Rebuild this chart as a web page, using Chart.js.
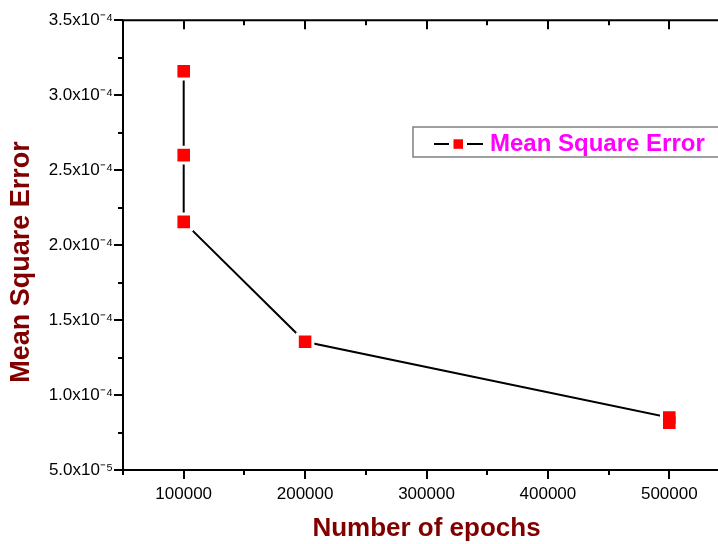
<!DOCTYPE html>
<html lang="en">
<head>
<meta charset="utf-8">
<title>Mean Square Error vs epochs</title>
<script src="https://cdn.jsdelivr.net/npm/chart.js"></script>
<style>
	html, body { margin: 0; padding: 0; overflow: hidden; background: #fff; }
	#wrap { width: 744px; height: 544px; }
</style>
</head>
<body>
<div id="wrap">
	<canvas id="myChart" width="744" height="544"></canvas>
</div>
<script>
// data
const epochs = [100000, 100000, 100000, 200000, 500000, 500000];
const mse = [3.16e-4, 2.60e-4, 2.155e-4, 1.355e-4, 8.5e-5, 8.15e-5];

// labelled ticks
const xTickLabels = [100000, 200000, 300000, 400000, 500000];
const yTickLabels = [5e-5, 1.0e-4, 1.5e-4, 2.0e-4, 2.5e-4, 3.0e-4, 3.5e-4];

const seriesName = 'Mean Square Error';
const xTitle = 'Number of epochs';
const yTitle = 'Mean Square Error';

const FONT = "'Liberation Sans', Arial, sans-serif";
const SUP = { '-': '\u207B', '0': '\u2070', '1': '\u00B9', '2': '\u00B2', '3': '\u00B3', '4': '\u2074',
	'5': '\u2075', '6': '\u2076', '7': '\u2077', '8': '\u2078', '9': '\u2079' };

function isLabelY(v){
	return yTickLabels.some(l => Math.abs(l - v) < 1e-9);
}

function sciLabel(v){
	const parts = v.toExponential(1).split('e');
	let exp = String(parseInt(parts[1], 10));
	let sup = '';
	for (const ch of exp) sup += SUP[ch];
	return parts[0] + 'x10' + sup;
}

// frame, ticks, y title and legend box
const framePlugin = {
	id: 'frame',
	afterDraw(chart){
		const ctx = chart.ctx;
		const a = chart.chartArea;
		const xs = chart.scales.x, ys = chart.scales.y;
		ctx.save();
		ctx.strokeStyle = '#000';
		ctx.lineWidth = 2;
		ctx.beginPath();
		ctx.rect(a.left, a.top, a.right - a.left, a.bottom - a.top);
		ctx.stroke();

		ctx.beginPath();
		xs.ticks.forEach(t => {
			const px = Math.round(xs.getPixelForValue(t.value));
			const len = xTickLabels.includes(t.value) ? 9 : 5;
			ctx.moveTo(px, a.bottom); ctx.lineTo(px, a.bottom + len);
			ctx.moveTo(px, a.top); ctx.lineTo(px, a.top + len);
		});
		ys.ticks.forEach(t => {
			const py = Math.round(ys.getPixelForValue(t.value));
			const len = isLabelY(t.value) ? 9 : 5;
			ctx.moveTo(a.left, py); ctx.lineTo(a.left - len, py);
		});
		ctx.stroke();

		// y axis title
		ctx.save();
		ctx.translate(22, 262);
		ctx.rotate(-Math.PI / 2);
		ctx.fillStyle = '#800000';
		ctx.font = "bold 27px " + FONT;
		ctx.textAlign = 'center';
		ctx.textBaseline = 'middle';
		ctx.fillText(yTitle, 0, 0);
		ctx.restore();

		// legend
		const ds = chart.data.datasets[0];
		ctx.strokeStyle = '#808080';
		ctx.lineWidth = 1.5;
		ctx.strokeRect(413, 127, 330, 30);
		ctx.strokeStyle = ds.borderColor;
		ctx.lineWidth = 2;
		ctx.beginPath();
		ctx.moveTo(434, 144); ctx.lineTo(449, 144);
		ctx.moveTo(467, 144); ctx.lineTo(483, 144);
		ctx.stroke();
		ctx.fillStyle = ds.pointBackgroundColor;
		ctx.fillRect(453.5, 139.3, 9.5, 9.5);
		ctx.fillStyle = '#FF00FF';
		ctx.font = "bold 24px " + FONT;
		ctx.textAlign = 'left';
		ctx.textBaseline = 'alphabetic';
		ctx.fillText(ds.label, 490, 151);
		ctx.restore();
	}
};

const points = epochs.map((x, i) => ({ x: x, y: mse[i] }));
const last = points.length - 1;

const config = {
	type: 'line',
	data: {
		datasets: [{
			label: seriesName,
			data: points,
			borderColor: '#000000',
			borderWidth: 2,
			pointStyle: 'rect',
			pointBackgroundColor: '#FF0000',
			pointBorderColor: '#FFFFFF',
			pointRadius: ctx => ctx.dataIndex === last ? 8.9 : 11.0,
			pointBorderWidth: ctx => ctx.dataIndex === last ? 0 : 3,
			tension: 0,
			fill: false
		}]
	},
	options: {
		responsive: false,
		animation: false,
		events: [],
		layout: { padding: { left: 0, top: 20, right: 7, bottom: 0 } },
		plugins: {
			legend: { display: false },
			tooltip: { enabled: false }
		},
		scales: {
			x: {
				type: 'linear',
				min: 50000,
				max: 550000,
				grid: { display: false, drawTicks: false },
				border: { display: false },
				ticks: {
					stepSize: 50000,
					autoSkip: false,
					maxRotation: 0,
					padding: 14,
					color: '#000',
					font: { family: FONT, size: 17 },
					callback: v => xTickLabels.includes(v) ? String(v) : ''
				},
				title: {
					display: true,
					text: xTitle,
					color: '#800000',
					font: { family: FONT, size: 26, weight: 'bold' },
					padding: 0
				},
				afterFit: s => { s.height = 74; }
			},
			y: {
				type: 'linear',
				min: 5e-5,
				max: 3.5e-4,
				grid: { display: false, drawTicks: false },
				border: { display: false },
				ticks: {
					stepSize: 2.5e-5,
					autoSkip: false,
					padding: 10,
					color: '#000',
					font: { family: FONT, size: 17 },
					callback: v => isLabelY(v) ? sciLabel(v) : ''
				},
				afterFit: s => { s.width = 123; }
			}
		}
	},
	plugins: [framePlugin]
};

var myChart = new Chart(document.getElementById('myChart'), config);
</script>
</body>
</html>
